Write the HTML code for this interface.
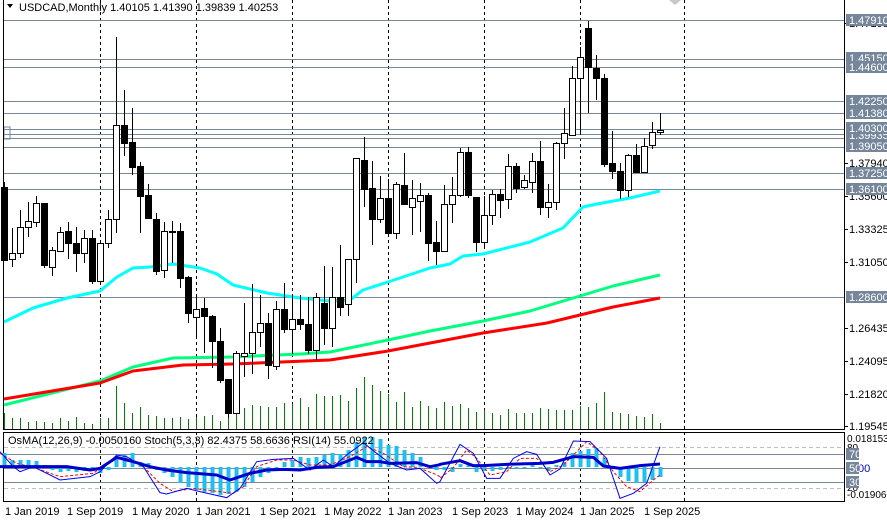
<!DOCTYPE html>
<html><head><meta charset="utf-8"><style>
html,body{margin:0;padding:0;background:#fff;width:887px;height:520px;overflow:hidden}
svg{display:block;font-family:"Liberation Sans",sans-serif}
</style></head><body>
<svg id="s" width="887" height="520" xmlns="http://www.w3.org/2000/svg">
<rect width="887" height="520" fill="#fff"/>
</svg>
<script>
const S=document.getElementById('s');const NS='http://www.w3.org/2000/svg';
function el(t,a,txt){const e=document.createElementNS(NS,t);for(const k in a)e.setAttribute(k,a[k]);if(txt!==undefined)e.textContent=txt;S.appendChild(e);return e;}
// dashed verticals
[100,196,292,388,484,580,684].forEach(x=>{el('line',{x1:x+.5,y1:0,x2:x+.5,y2:429,stroke:'#000','stroke-dasharray':'3,3','stroke-width':1});el('line',{x1:x+.5,y1:432,x2:x+.5,y2:502,stroke:'#000','stroke-dasharray':'3,3','stroke-width':1});});
// horizontal price lines
[20,59,67,101,113,129,134,138,147,173,189,297].forEach(y=>el('line',{x1:3,y1:y+.5,x2:844,y2:y+.5,stroke:'#778899','stroke-width':1}));
el('rect',{x:4,y:127,width:6,height:12,fill:'none',stroke:'#778899'});
// volumes
const vol=[413,418,418,422,421,422,423,418,421,417,423,424,418,418,386,403,413,407,415,416,418,418,417,419,417,416,415,421,412,413,408,405,406,407,407,403,404,398,407,394,396,396,395,401,388,377,385,391,394,402,392,407,401,406,408,402,406,404,408,412,410,413,415,409,413,413,413,408,409,410,410,410,406,407,403,392,412,413,414,416,417,414,423];
vol.forEach((v,i)=>{const x=4+8*i;el('line',{x1:x+.5,y1:v,x2:x+.5,y2:429,stroke:'#008000','stroke-width':1});});
// MAs
function pl(pts,c,w){el('polyline',{points:pts.map(p=>p.join(',')).join(' '),fill:'none',stroke:c,'stroke-width':w,'stroke-linejoin':'round'});}
pl([[4,322],[33,308],[67,298],[100,291],[117,277],[133,268],[150,267],[173,264],[200,268],[217,274],[233,285],[267,293],[300,298],[330,301],[350,300],[363,290],[388,282],[430,268],[450,264],[463,256],[483,254],[530,242],[563,228],[583,207],[597,204],[630,198],[660,191]],'#00ffff',3);
pl([[4,405],[100,381],[133,367],[173,358],[233,357],[300,354],[330,352],[388,340],[430,331],[483,321],[530,311],[580,296],[613,286],[660,275]],'#00ff7f',3);
pl([[4,399],[100,383],[133,371],[183,365],[233,364],[330,360],[388,351],[483,333],[547,323],[580,315],[613,307],[660,298]],'#ff0000',3);
// candles [top,bottom,high,low,black]
const C=[[187,260,182,260,1],[253,259,228,267,0],[227,253,210,258,0],[221,227,202,237,0],[203,222,196,227,0],[203,265,203,268,1],[250,267,247,276,0],[232,251,227,252,0],[231,243,222,259,1],[243,253,227,272,1],[238,253,230,263,0],[238,281,230,284,1],[243,281,242,281,0],[219,243,210,248,0],[125,219,37,233,0],[125,143,90,156,1],[142,167,108,175,1],[166,196,162,233,1],[195,218,184,218,1],[219,271,213,275,1],[231,270,222,278,0],[231,232,221,263,0],[231,278,223,288,1],[277,313,276,323,1],[309,317,295,337,0],[308,316,298,353,1],[316,341,315,368,1],[341,380,328,383,1],[379,413,379,418,1],[353,413,351,413,0],[353,356,303,377,0],[332,353,284,374,0],[323,332,295,347,0],[323,365,313,379,1],[309,366,301,370,0],[309,329,283,333,1],[319,329,295,354,0],[319,324,295,330,1],[324,350,297,354,1],[297,350,293,360,0],[303,328,266,345,1],[297,328,267,347,0],[297,307,245,316,1],[259,304,259,316,0],[158,259,158,283,0],[160,189,137,207,1],[188,219,161,245,1],[198,219,176,223,0],[198,233,179,233,1],[184,233,182,239,0],[185,204,153,204,1],[198,207,180,235,0],[195,201,183,232,0],[195,243,193,261,1],[242,251,221,265,1],[204,251,185,251,0],[195,204,177,223,0],[152,195,148,197,0],[152,195,147,198,1],[197,242,197,252,1],[215,242,196,247,0],[194,215,190,225,0],[194,200,189,218,1],[166,199,154,209,0],[166,188,163,193,1],[180,187,175,189,0],[161,182,153,193,0],[161,207,141,215,1],[202,207,184,218,0],[143,202,142,210,0],[133,143,108,159,0],[78,135,66,135,0],[57,78,47,135,0],[28,67,21,113,1],[68,78,55,100,1],[78,164,74,167,1],[163,171,131,179,1],[171,190,163,199,1],[155,190,154,197,0],[155,172,144,173,1],[146,172,138,172,0],[132,145,122,149,0],[130,132,113,135,0]];
C.forEach((c,i)=>{const x=4+8*i;el('line',{x1:x+.5,y1:c[2],x2:x+.5,y2:c[3],stroke:'#000','stroke-width':1});
 const h=Math.max(1,c[1]-c[0]);el('rect',{x:x-2.5,y:c[0]+.5,width:6,height:h,fill:c[4]?'#000':'#fff',stroke:'#000','stroke-width':1});});
// borders
el('line',{x1:3.5,y1:0,x2:3.5,y2:429,stroke:'#000'});
el('line',{x1:3,y1:429.5,x2:844,y2:429.5,stroke:'#000'});
el('line',{x1:844.5,y1:0,x2:844.5,y2:430,stroke:'#000'});
el('rect',{x:3.5,y:432.5,width:841,height:69,fill:'none',stroke:'#000'});
// lower panel levels
el('line',{x1:4,y1:447.5,x2:844,y2:447.5,stroke:'#c0c0c0','stroke-dasharray':'4,3'});
el('line',{x1:4,y1:488.5,x2:844,y2:488.5,stroke:'#c0c0c0','stroke-dasharray':'4,3'});
[454,468,482].forEach(y=>el('line',{x1:4,y1:y+.5,x2:844,y2:y+.5,stroke:'#778899'}));
// OsMA histogram
const os=[453,460,460,460,461,465,470,472,471,472,471,470,473,470,457,455,453,462,463,470,473,477,483,487,490,492,493,495,494,492,487,482,477,473,470,462,460,457,458,457,455,453,454,450,442,437,437,439,445,446,450,453,457,465,470,470,472,464,465,472,471,471,470,468,469,468,465,468,471,465,462,453,451,449,448,458,467,477,481,483,482,480,477];
os.forEach((v,i)=>{const x=4+8*i;const y0=467;el('rect',{x:x-1.5,y:Math.min(v,y0),width:4,height:Math.max(1,Math.abs(v-y0)),fill:'#1ec0f0'});});
function z2(a){return a.map(p=>[p[0]/3,420+p[1]/3]);}
function z5(a){return a.map(p=>[440+p[0]/3,425+p[1]/3]);}
const red=z2([[0,100],[50,130],[100,142],[180,170],[280,160],[340,115],[380,115],[430,140],[480,190],[520,215],[580,205],[660,215],[700,220],[730,200],[770,140],[830,120],[880,120],[930,135],[990,135],[1050,110],[1100,80],[1150,100],[1210,140],[1250,142],[1300,160],[1320,170]]).concat(z5([[0,160],[40,128],[80,75],[110,100],[150,150],[200,140],[240,100],[290,100],[330,140],[370,120],[440,50],[480,80],[520,140],[560,185],[600,200],[640,165],[660,150]]));
el('polyline',{points:red.map(p=>p.join(',')).join(' '),fill:'none',stroke:'#ff0000','stroke-dasharray':'3,2','stroke-width':1});
const st=z2([[0,95],[40,140],[60,155],[100,140],[180,180],[270,170],[300,155],[350,105],[380,110],[430,140],[480,218],[500,222],[560,205],[600,215],[680,233],[720,205],[770,125],[820,118],[880,115],[930,150],[970,120],[1000,140],[1040,105],[1090,68],[1130,100],[1170,130],[1220,150],[1260,145],[1310,190],[1320,185]]).concat(z5([[0,170],[60,58],[100,85],[140,160],[180,160],[220,100],[260,80],[290,88],[330,150],[360,132],[400,48],[450,50],[500,100],[540,220],[580,205],[620,175],[660,65]]));
el('polyline',{points:st.map(p=>p.join(',')).join(' '),fill:'none',stroke:'#0000ff','stroke-width':1});
const rsi=z2([[0,140],[100,140],[200,140],[270,150],[300,145],[350,112],[400,125],[450,140],[500,150],[560,158],[650,165],[690,180],[750,160],[800,150],[850,148],[900,150],[950,142],[1000,140],[1070,112],[1100,125],[1140,125],[1170,130],[1250,128],[1290,140],[1320,134]]).concat(z5([[0,118],[60,107],[100,122],[130,122],[200,118],[300,115],[340,112],[400,95],[460,97],[490,123],[540,130],[600,122],[660,117]]));
el('polyline',{points:rsi.map(p=>p.join(',')).join(' '),fill:'none',stroke:'#0000cd','stroke-width':3,'stroke-linejoin':'round'});
// title
el('path',{d:'M7 4 L13 4 L10 8 Z',fill:'#000'});
el('text',{x:19,y:11,'font-size':11,fill:'#000'},'USDCAD,Monthly  1.40105 1.41390 1.39839 1.40253');
el('text',{x:8,y:444,'font-size':11,fill:'#000'},'OsMA(12,26,9) -0.0050160  Stoch(5,3,3) 82.4375 58.6636  RSI(14) 55.0922');
el('path',{d:'M669 0 L681 0 L675 5 Z',fill:'#c8c8c8'});
// right axis
function tick(y){el('line',{x1:844,y1:y+.5,x2:848,y2:y+.5,stroke:'#000'});}
function lab(y,t){tick(y);el('text',{x:849,y:y+4,'font-size':11,fill:'#000'},t);}
function box(y,t,w){el('rect',{x:846,y:y-6,width:w||41,height:12,fill:'#76869a'});el('text',{x:849,y:y+4,'font-size':11,fill:'#fff'},t);}
lab(23,'1.47105');lab(163,'1.37940');lab(196,'1.35600');lab(229,'1.33325');lab(262,'1.31050');lab(328,'1.26435');lab(361,'1.24095');lab(394,'1.21820');lab(426,'1.19545');
box(20,'1.47910');box(58,'1.45150');box(67,'1.44600');box(101,'1.42250');box(113,'1.41380');box(135,'1.39935');box(173,'1.37250');box(189,'1.36100');box(297,'1.28600');
el('rect',{x:846,y:139,width:41,height:13,fill:'#76869a'});el('text',{x:849,y:150,'font-size':11,fill:'#fff'},'1.39050');
el('rect',{x:846,y:122,width:41,height:12,fill:'#76869a'});el('text',{x:849,y:132,'font-size':11,fill:'#fff'},'1.40300');
el('text',{x:847,y:442,'font-size':10,fill:'#000'},'0.018153');
el('text',{x:847,y:451,'font-size':10,fill:'#000'},'80');
el('text',{x:847,y:491,'font-size':10,fill:'#000'},'20');
el('text',{x:847,y:498,'font-size':10,fill:'#000'},'-0.019060');
el('text',{x:858,y:472,'font-size':11,fill:'#0000cd'},'00');
box(454,'70',13);box(468,'50',13);box(482,'30',13);
// time labels
[['1 Jan 2019',5],['1 Sep 2019',67],['1 May 2020',132],['1 Jan 2021',196],['1 Sep 2021',260],['1 May 2022',324],['1 Jan 2023',388],['1 Sep 2023',452],['1 May 2024',516],['1 Jan 2025',580],['1 Sep 2025',644]].forEach(a=>el('text',{x:a[1],y:515,'font-size':11,fill:'#000'},a[0]));
</script>
</body></html>
